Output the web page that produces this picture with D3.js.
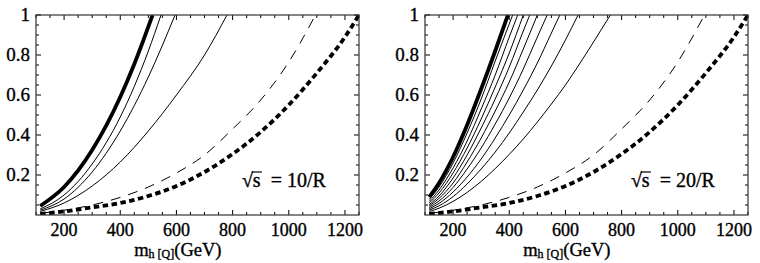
<!DOCTYPE html>
<html>
<head>
<meta charset="utf-8">
<script src="https://cdn.jsdelivr.net/npm/d3@7"></script>
<style>
  body { margin: 0; background: #fff; }
  svg { display: block; }
  text { font-family: "Liberation Serif", "DejaVu Serif", serif; fill: #000; stroke: #000; stroke-width: 0.35; }
</style>
</head>
<body>
<div id="chart"></div>
<script>
// tick labels
const xTicks = [200, 400, 600, 800, 1000, 1200];
const yTicks = [0.2, 0.4, 0.6, 0.8, 1];
const yTickLabels = ['0.2', '0.4', '0.6', '0.8', '1'];

// common dashed / thick dotted curves (m, value)
const dashedM = [115, 200, 300, 400, 500, 600, 700, 800, 900, 1000, 1095];
const dashedV = [0.008, 0.024, 0.05, 0.088, 0.14, 0.21, 0.30, 0.43, 0.575, 0.765, 1.0];
const dottedM = [115, 200, 300, 400, 500, 600, 700, 800, 900, 1000, 1100, 1200, 1250];
const dottedV = [0.005, 0.018, 0.038, 0.06, 0.095, 0.145, 0.215, 0.305, 0.415, 0.55, 0.71, 0.89, 1.0];

// left panel, sqrt(s) = 10/R
const leftThickM = [115, 200, 300, 400, 450, 515];
const leftThickV = [0.045, 0.14, 0.325, 0.59, 0.755, 1.0];
const leftThin1M = [115, 200, 300, 400, 500, 545];
const leftThin1V = [0.03, 0.10, 0.255, 0.49, 0.82, 1.0];
const leftThin2M = [115, 200, 300, 400, 500, 595];
const leftThin2V = [0.024, 0.08, 0.215, 0.42, 0.69, 1.0];
const leftThin3M = [115, 200, 300, 400, 500, 600, 700, 780];
const leftThin3V = [0.018, 0.06, 0.145, 0.265, 0.42, 0.60, 0.80, 1.0];

// right panel, sqrt(s) = 20/R
const rightThickM = [115, 150, 200, 250, 300, 350, 395];
const rightThickV = [0.09, 0.16, 0.29, 0.45, 0.63, 0.82, 1.0];
const rightThin1M = [115, 150, 200, 250, 300, 350, 412];
const rightThin1V = [0.078, 0.14, 0.26, 0.41, 0.58, 0.77, 1.0];
const rightThin2M = [115, 150, 200, 250, 300, 350, 400, 430];
const rightThin2V = [0.068, 0.125, 0.235, 0.37, 0.53, 0.70, 0.89, 1.0];
const rightThin3M = [115, 150, 200, 250, 300, 350, 400, 450];
const rightThin3V = [0.06, 0.11, 0.21, 0.335, 0.48, 0.64, 0.81, 1.0];
const rightThin4M = [115, 150, 200, 250, 300, 350, 400, 450, 473];
const rightThin4V = [0.052, 0.095, 0.185, 0.30, 0.435, 0.58, 0.74, 0.92, 1.0];
const rightThin5M = [115, 150, 200, 250, 300, 350, 400, 450, 500];
const rightThin5V = [0.045, 0.083, 0.16, 0.265, 0.385, 0.52, 0.665, 0.83, 1.0];
const rightThin6M = [115, 150, 200, 250, 300, 350, 400, 450, 500, 535];
const rightThin6V = [0.038, 0.07, 0.138, 0.23, 0.335, 0.455, 0.585, 0.73, 0.89, 1.0];
const rightThin7M = [115, 150, 200, 250, 300, 350, 400, 450, 500, 550, 580];
const rightThin7V = [0.031, 0.058, 0.115, 0.19, 0.28, 0.385, 0.50, 0.625, 0.76, 0.91, 1.0];
const rightThin8M = [115, 150, 200, 250, 300, 350, 400, 450, 500, 550, 600, 645];
const rightThin8V = [0.025, 0.046, 0.092, 0.155, 0.23, 0.315, 0.41, 0.515, 0.625, 0.745, 0.875, 1.0];
const rightThin9M = [115, 150, 200, 250, 300, 350, 400, 450, 500, 550, 600, 650, 700, 760];
const rightThin9V = [0.018, 0.034, 0.068, 0.113, 0.168, 0.232, 0.303, 0.38, 0.465, 0.555, 0.65, 0.755, 0.865, 1.0];

const zip = (ms, vs) => ms.map((m, i) => [m, vs[i]]);

const width = 760, height = 263;
const svg = d3.select('#chart').append('svg')
    .attr('width', width)
    .attr('height', height);

const thin = { width: 1, dash: null };
const thick = { width: 3.8, dash: null };
const longDash = { width: 1, dash: '10,8' };
const thickDot = { width: 3.8, dash: '5.5,3.5' };

const panels = [
    {
        left: 36, label: '10',
        curves: [
            [zip(dottedM, dottedV), thickDot],
            [zip(dashedM, dashedV), longDash],
            [zip(leftThin3M, leftThin3V), thin],
            [zip(leftThin2M, leftThin2V), thin],
            [zip(leftThin1M, leftThin1V), thin],
            [zip(leftThickM, leftThickV), thick]
        ]
    },
    {
        left: 425, label: '20',
        curves: [
            [zip(dottedM, dottedV), thickDot],
            [zip(dashedM, dashedV), longDash],
            [zip(rightThin9M, rightThin9V), thin],
            [zip(rightThin8M, rightThin8V), thin],
            [zip(rightThin7M, rightThin7V), thin],
            [zip(rightThin6M, rightThin6V), thin],
            [zip(rightThin5M, rightThin5V), thin],
            [zip(rightThin4M, rightThin4V), thin],
            [zip(rightThin3M, rightThin3V), thin],
            [zip(rightThin2M, rightThin2V), thin],
            [zip(rightThin1M, rightThin1V), thin],
            [zip(rightThickM, rightThickV), thick]
        ]
    }
];

const plotW = 323, plotH = 200, plotTop = 15;

panels.forEach((p, idx) => {
    const g = svg.append('g').attr('transform', `translate(${p.left}, ${plotTop})`);

    const x = d3.scaleLinear().domain([100, 1250]).range([0, plotW]);
    const y = d3.scaleLinear().domain([0, 1]).range([plotH, 0]);

    const clipId = 'clip' + idx;
    g.append('clipPath').attr('id', clipId)
        .append('rect').attr('width', plotW).attr('height', plotH);

    const line = d3.line()
        .x(d => x(d[0]))
        .y(d => y(d[1]))
        .curve(d3.curveMonotoneX);

    const curves = g.append('g').attr('clip-path', `url(#${clipId})`);
    p.curves.forEach(([data, style]) => {
        curves.append('path')
            .datum(data)
            .attr('d', line)
            .attr('fill', 'none')
            .attr('stroke', '#000')
            .attr('stroke-width', style.width)
            .attr('stroke-dasharray', style.dash);
    });

    // minor + major ticks on all sides, pointing inward
    const xMinor = d3.range(100, 1251, 50).filter(v => v % 200 !== 0);
    const yMinor = d3.range(0.05, 1, 0.05).filter(v => Math.abs(v * 5 - Math.round(v * 5)) > 1e-6);
    const tickLines = g.append('g').attr('stroke', '#000').attr('stroke-width', 1);
    const addX = (vals, len) => vals.forEach(v => {
        tickLines.append('line').attr('x1', x(v)).attr('x2', x(v)).attr('y1', plotH).attr('y2', plotH - len);
        tickLines.append('line').attr('x1', x(v)).attr('x2', x(v)).attr('y1', 0).attr('y2', len);
    });
    const addY = (vals, len) => vals.forEach(v => {
        tickLines.append('line').attr('y1', y(v)).attr('y2', y(v)).attr('x1', 0).attr('x2', len);
        tickLines.append('line').attr('y1', y(v)).attr('y2', y(v)).attr('x1', plotW).attr('x2', plotW - len);
    });
    addX(xTicks, 5);
    addX(xMinor, 3);
    addY(yTicks, 5);
    addY(yMinor, 3);

    g.append('rect')
        .attr('width', plotW).attr('height', plotH)
        .attr('fill', 'none').attr('stroke', '#333').attr('stroke-width', 1.2);

    // axis labels
    g.selectAll('.xl').data(xTicks).enter().append('text')
        .attr('x', d => x(d)).attr('y', plotH + 21)
        .attr('text-anchor', 'middle')
        .attr('font-size', 18)
        .text(d => d);
    g.selectAll('.yl').data(yTicks).enter().append('text')
        .attr('x', -6).attr('y', d => y(d) + 6)
        .attr('text-anchor', 'end')
        .attr('font-size', 19)
        .text((d, i) => yTickLabels[i]);

    // x title
    const t = g.append('text')
        .attr('x', x(605)).attr('y', plotH + 41)
        .attr('text-anchor', 'middle')
        .attr('font-size', 18.5);
    t.append('tspan').text('m');
    t.append('tspan').attr('font-size', 12).attr('dy', 2).text('h [Q]');
    t.append('tspan').attr('dy', -2).text('(GeV)');

    // sqrt(s) annotation
    const ax = x(833), ay = y(0.14);
    const ann = g.append('text').attr('x', ax).attr('y', ay).attr('font-size', 20).attr('xml:space', 'preserve');
    ann.append('tspan').text('\u221A');
    ann.append('tspan').text('s');
    ann.append('tspan').text(`  = ${p.label}/R`);
    g.append('line')
        .attr('x1', ax + 10).attr('x2', ax + 20)
        .attr('y1', ay - 15).attr('y2', ay - 15)
        .attr('stroke', '#000').attr('stroke-width', 1.2);
});
</script>
</body>
</html>
